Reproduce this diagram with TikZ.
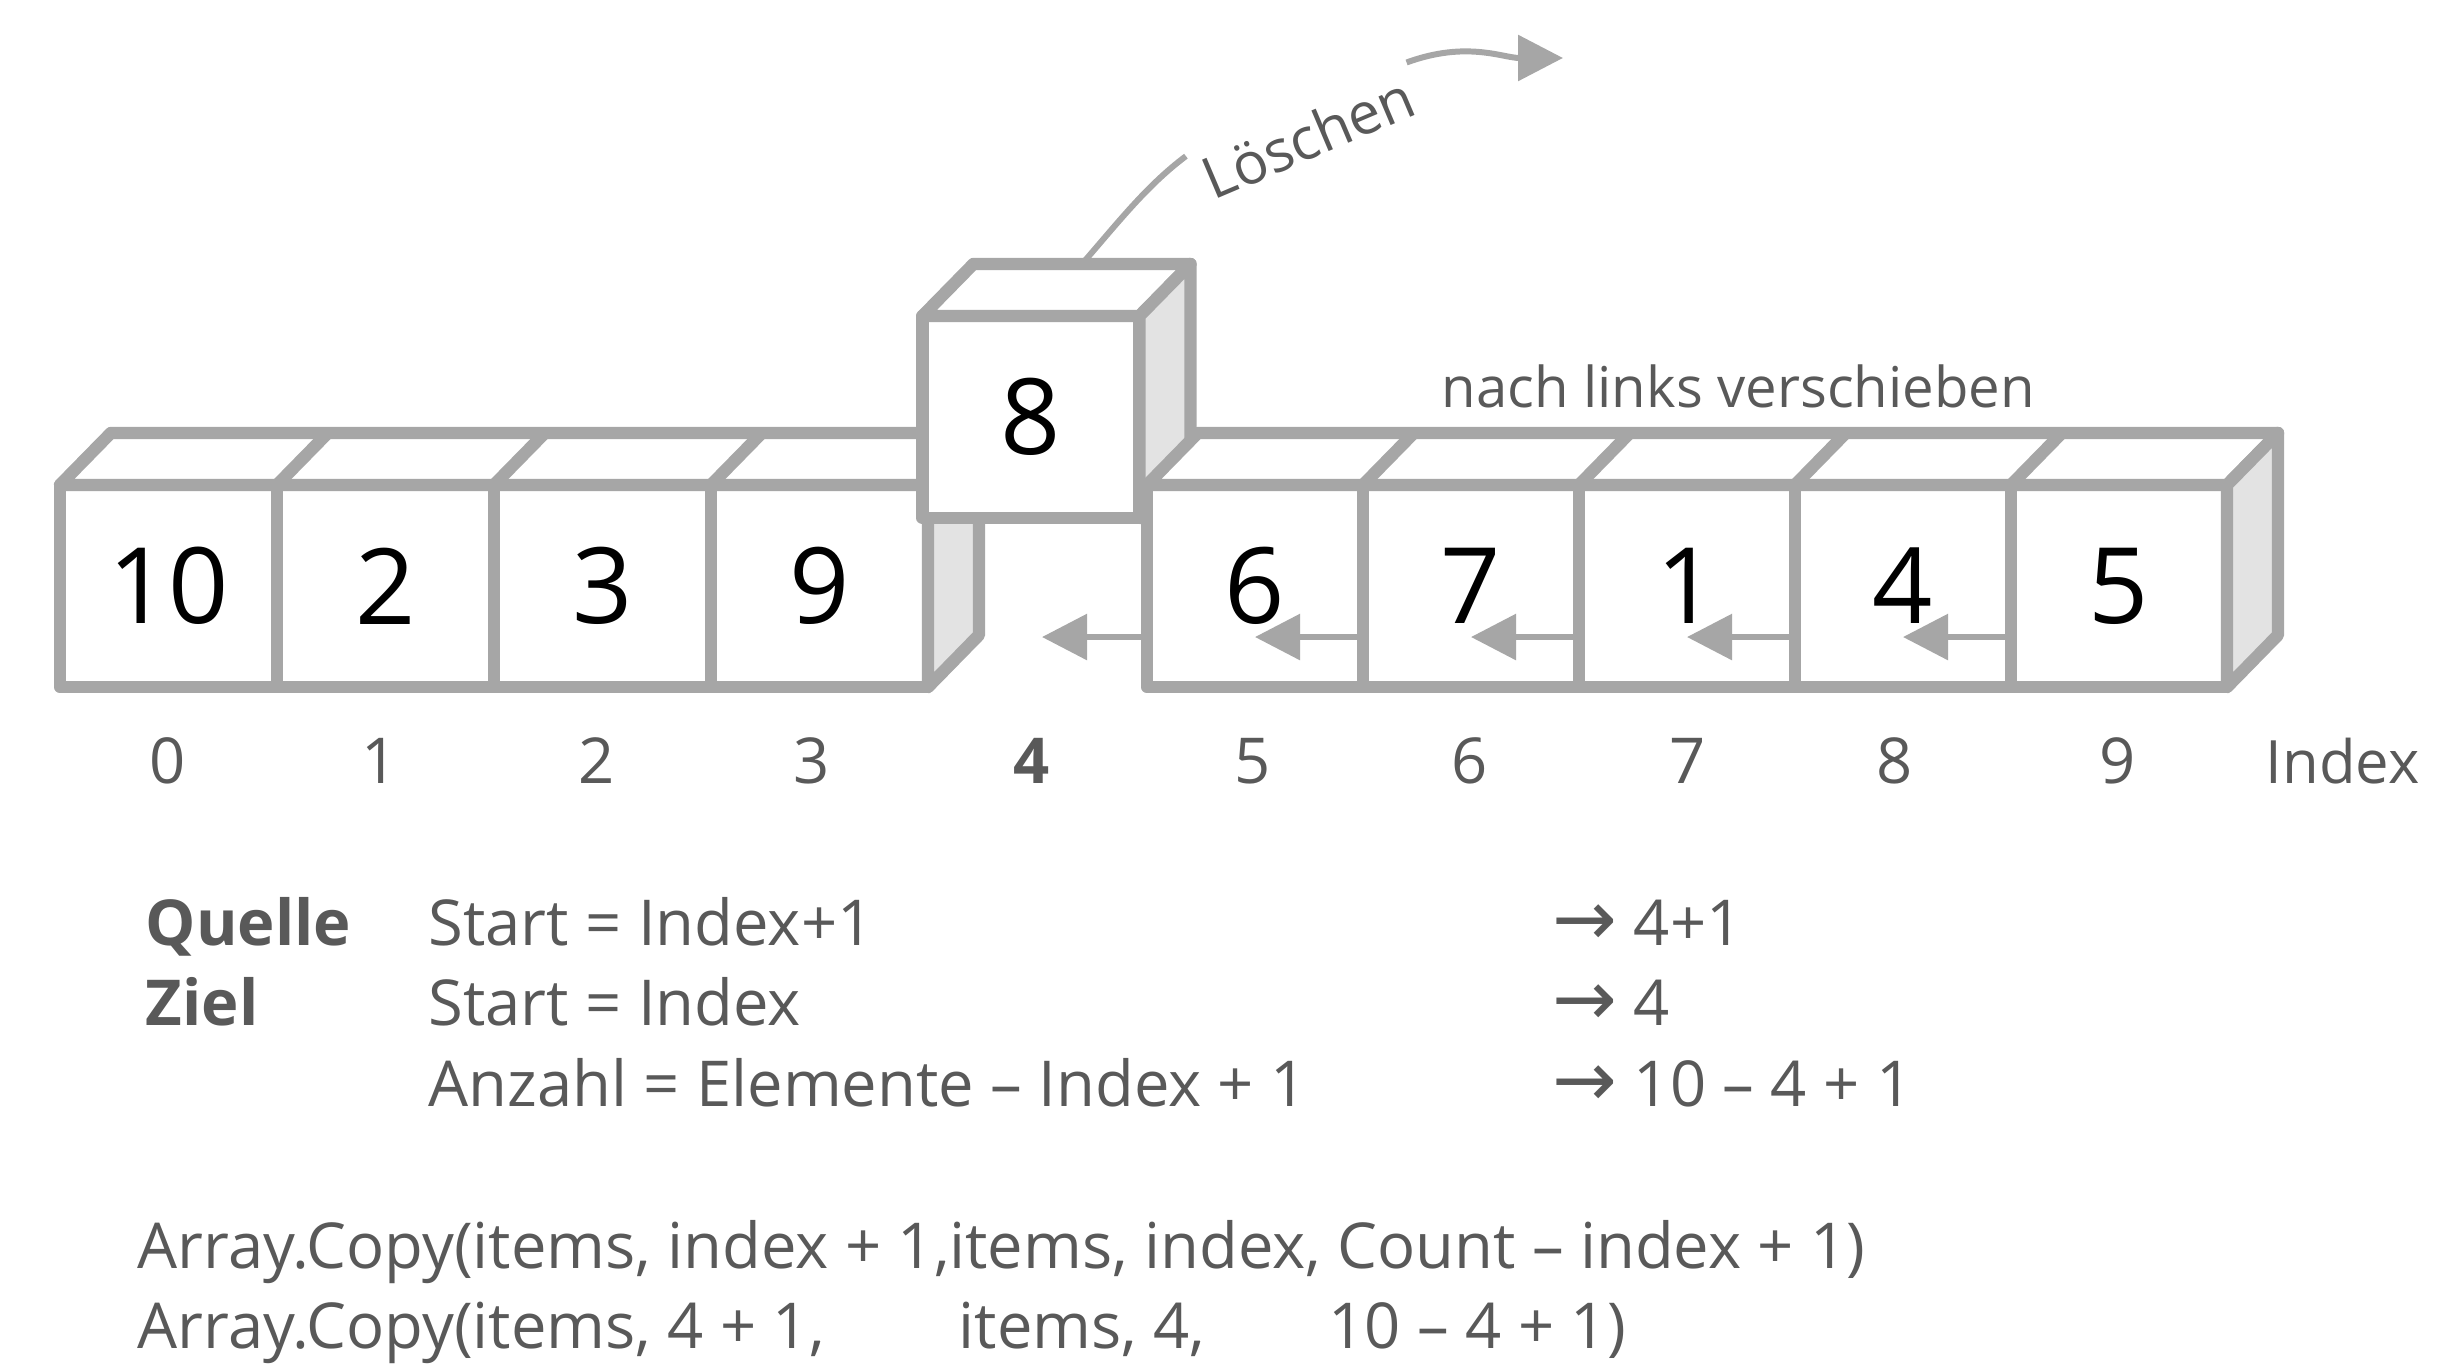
\documentclass[tikz,border=0pt]{standalone}
\usepackage{fontspec}
\setmainfont{Open Sans}
\newfontfamily\symfont{DejaVu Sans}
\usetikzlibrary{arrows.meta}
\definecolor{edgegray}{HTML}{A6A6A6}
\definecolor{sidegray}{HTML}{E3E3E3}
\definecolor{txtgray}{HTML}{595959}

\begin{document}
\begin{tikzpicture}[x=0.01cm,y=-0.01cm]
\tikzset{cell/.style={draw=edgegray, line width=3.5pt, line join=round, fill=white, minimum width=2.17cm, minimum height=2.02cm, inner sep=0pt, outer sep=0pt, font=\fontsize{30}{36}\selectfont},
  face/.style={draw=edgegray, line width=3.5pt, line join=round, fill=white},
  side/.style={face, fill=sidegray},
  f/.style={draw=edgegray, line width=1.7pt, -{Triangle[length=12.8pt,width=12.8pt]}},
  lbl/.style={text=txtgray, inner sep=0pt, anchor=base west, font=\fontsize{18}{22}\selectfont},
  idx/.style={lbl, anchor=base}};
\useasboundingbox (0,0) rectangle (2442,1370);

% linker Teil
\node[cell] (c0) at (168.5,586) {10};
\node[cell] (c1) at (385.5,586) {2};
\node[cell] (c2) at (602.5,586) {3};
\node[cell] (c3) at (819.5,586) {9};
\draw[face] (c0.north west) -- ++(51,-52) -- ([shift={(51,-52)}]c3.north east) -- (c3.north east) -- cycle;
\draw[face] (c1.north west) -- ++(51,-52);
\draw[face] (c2.north west) -- ++(51,-52);
\draw[face] (c3.north west) -- ++(51,-52);
\draw[side] (c3.north east) -- ++(51,-52) -- ++(0,202) -- (c3.south east) -- cycle;

% geloeschtes Element
\node[cell] (del) at (1031,417) {8};
\draw[face] (del.north west) -- ++(51,-52) -- ([shift={(51,-52)}]del.north east) -- (del.north east) -- cycle;
\draw[side] (del.north east) -- ++(51,-52) -- ++(0,202) -- (del.south east) -- cycle;

% rechter Teil
\node[cell, minimum width=2.16cm] (c5) at (1255,586) {6};
\node[cell, minimum width=2.16cm] (c6) at (1471,586) {7};
\node[cell, minimum width=2.16cm] (c7) at (1687,586) {1};
\node[cell, minimum width=2.16cm] (c8) at (1903,586) {4};
\node[cell, minimum width=2.16cm] (c9) at (2119,586) {5};
\draw[face] (c5.north west) -- ++(51,-52) -- ([shift={(51,-52)}]c9.north east) -- (c9.north east) -- cycle;
\draw[face] (c6.north west) -- ++(51,-52);
\draw[face] (c7.north west) -- ++(51,-52);
\draw[face] (c8.north west) -- ++(51,-52);
\draw[face] (c9.north west) -- ++(51,-52);
\draw[side] (c9.north east) -- ++(51,-52) -- ++(0,202) -- (c9.south east) -- cycle;

% verschieben
\coordinate (c4) at (1042,586);
\draw[f] ([yshift=-0.51cm]c5.west) -- ([yshift=-0.51cm]c4);
\draw[f] ([yshift=-0.51cm]c6.west) -- ([yshift=-0.51cm]c5.center);
\draw[f] ([yshift=-0.51cm]c7.west) -- ([yshift=-0.51cm]c6.center);
\draw[f] ([yshift=-0.51cm]c8.west) -- ([yshift=-0.51cm]c7.center);
\draw[f] ([yshift=-0.51cm]c9.west) -- ([yshift=-0.51cm]c8.center);
\node[lbl, font=\fontsize{16}{19}\selectfont] (shift) at (1441,408) {nach links verschieben};

% Loeschen
\node[lbl, anchor=center, rotate=23, inner sep=2pt, font=\fontsize{16.5}{19}\selectfont] (loesch) at (1308,137) {Löschen};
\coordinate (away) at (1563,58);
\draw[draw=edgegray, line width=1.7pt] ([shift={(51,-52)}]del.north) .. controls +(35,-40) and +(-40,30) .. (loesch.north west);
\draw[f] (loesch.north east) .. controls +(60,-22) and +(-60,0) .. (away);

% Index
\node[idx] (i0) at (168,783) {0};
\node[idx] (i1) at (380,783) {1};
\node[idx] (i2) at (597,783) {2};
\node[idx] (i3) at (812,783) {3};
\node[idx, font=\fontsize{18}{22}\selectfont\bfseries] (i4) at (1032,783) {4};
\node[idx] (i5) at (1253,783) {5};
\node[idx] (i6) at (1470,783) {6};
\node[idx] (i7) at (1688,783) {7};
\node[idx] (i8) at (1895,783) {8};
\node[idx] (i9) at (2118,783) {9};
\node[lbl, font=\fontsize{17}{21}\selectfont] (idx) at (2265,783) {Index};

% Parameter
\node[lbl, font=\fontsize{18}{22}\selectfont\bfseries] (quelle) at (145,945) {Quelle};
\node[lbl, font=\fontsize{18}{22}\selectfont\bfseries] (ziel) at (145,1025) {Ziel};
\node[lbl] (qstart) at (428,945) {Start = Index+1};
\node[lbl] (zstart) at (428,1025) {Start = Index};
\node[lbl] (anzahl) at (428,1106) {Anzahl = Elemente – Index + 1};
\node[lbl] (qres) at (1552,945) {{\symfont\fontsize{22}{22}\selectfont →} 4+1};
\node[lbl] (zres) at (1552,1025) {{\symfont\fontsize{22}{22}\selectfont →} 4};
\node[lbl] (ares) at (1552,1106) {{\symfont\fontsize{22}{22}\selectfont →} 10 – 4 + 1};

% Aufruf
\node[lbl] (code1) at (137,1268) {Array.Copy(items, index + 1,items, index, Count – index + 1)};
\node[lbl] (code2a) at (137,1348) {Array.Copy(items, 4 + 1,};
\node[lbl] (code2b) at (958,1348) {items, 4,};
\node[lbl] (code2c) at (1328,1348) {10 – 4 + 1)};
\end{tikzpicture}
\end{document}
